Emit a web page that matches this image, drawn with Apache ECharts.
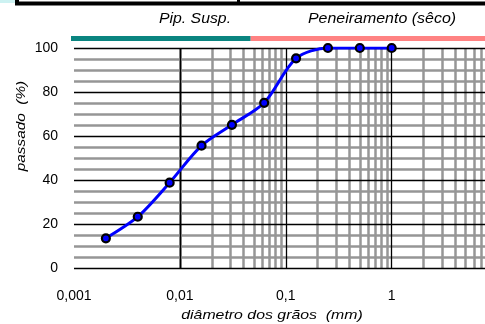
<!DOCTYPE html>
<html>
<head>
<meta charset="utf-8">
<script src="https://cdn.jsdelivr.net/npm/echarts@6/dist/echarts.min.js"></script>
<style>
  html, body { margin: 0; padding: 0; background: #fff; overflow: hidden; }
  /* the plot runs past the right edge of the picture, so the canvas is wider than the window */
  #chart { width: 512px; height: 324px; }
</style>
</head>
<body>
<div id="chart"></div>
<script>
// grain size curve
const diameters = [0.002, 0.004, 0.008, 0.016, 0.031, 0.0625, 0.125, 0.25, 0.5, 1.0]
const passing = [13.5, 23.3, 38.8, 55.6, 65.1, 75.1, 95.3, 100, 100, 100]

const decades = [0.001, 0.01, 0.1, 1, 10]
const decadeLabels = ['0,001', '0,01', '0,1', '1', '10']
const minorSteps = [2, 3, 4, 5, 6, 7, 8, 9]
const yMajor = [0, 20, 40, 60, 80, 100]
const yMinor = [5, 10, 15, 25, 30, 35, 45, 50, 55, 65, 70, 75, 85, 90, 95]

// where the pipette zone ends and the sieve zone starts
const sieveBoundary = 0.0466

const font = "'Liberation Sans', Arial, sans-serif"

const minorX = []
decades.slice(0, -1).forEach(d => minorSteps.forEach(k => minorX.push(d * k)))

const chart = echarts.init(document.getElementById('chart'))

const gridLine = (color, width, xs, ys, z) => ({
  type: 'line',
  data: [],
  z,
  silent: true,
  markLine: {
    z,
    silent: true,
    animation: false,
    symbol: ['none', 'none'],
    label: { show: false },
    emphasis: { disabled: true },
    lineStyle: { color, width, type: 'solid' },
    data: [...xs.map(v => ({ xAxis: v })), ...ys.map(v => ({ yAxis: v }))]
  }
})

chart.setOption({
  animation: false,
  grid: { left: 74, top: 48, right: 14.4, bottom: 56 },
  xAxis: {
    type: 'log',
    logBase: 10,
    min: 0.001,
    max: 10,
    axisLine: { show: false },
    axisTick: { show: false },
    splitLine: { show: false },
    axisLabel: {
      margin: 21,
      color: '#000',
      fontSize: 14,
      fontFamily: font,
      formatter: (v) => decadeLabels[Math.round(Math.log10(v)) + 3] || ''
    }
  },
  yAxis: {
    type: 'value',
    min: 0,
    max: 100,
    interval: 20,
    axisLine: { show: false },
    axisTick: { show: false },
    splitLine: { show: false },
    axisLabel: { margin: 16, color: '#000', fontSize: 14, fontFamily: font }
  },
  series: [
    gridLine('#969696', 2.5, minorX, yMinor, 1),
    gridLine('#000', 1.3, decades, yMajor, 2),
    {
      type: 'line',
      z: 5,
      data: diameters.map((d, i) => [d, passing[i]]),
      smooth: 0.3,
      symbol: 'circle',
      symbolSize: 8,
      lineStyle: { color: '#0000ff', width: 3 },
      itemStyle: { color: '#0000ff', borderColor: '#000', borderWidth: 2.2 }
    }
  ]
})

const bx = chart.convertToPixel({ gridIndex: 0 }, [sieveBoundary, 100])[0]

// the original text is a little stretched sideways
const label = (text, x, y, size, sx, rotation) => ({
  type: 'text', x, y, scaleX: sx, rotation: rotation || 0,
  style: { text, font: 'italic ' + size + 'px ' + font, fill: '#000', align: 'center', verticalAlign: 'middle' }
})

chart.setOption({
  graphic: [
    // bits of the table border above the chart
    { type: 'rect', shape: { x: 0, y: 0, width: 15, height: 3 }, style: { fill: '#cdf2f2' } },
    { type: 'rect', shape: { x: 15, y: 0, width: 4, height: 4 }, style: { fill: '#000' } },
    { type: 'rect', shape: { x: 15, y: 1.5, width: 500, height: 4 }, style: { fill: '#000' } },
    { type: 'rect', shape: { x: 237, y: 0, width: 3, height: 5 }, style: { fill: '#000' } },
    // zone bars
    { type: 'rect', shape: { x: 71, y: 36, width: bx - 71, height: 5 }, style: { fill: '#0a8580' } },
    { type: 'rect', shape: { x: bx, y: 36, width: 512 - bx, height: 5 }, style: { fill: '#ff8282' } },
    label('Pip. Susp.', 195, 19, 14, 1.13),
    label('Peneiramento (sêco)', 382, 19, 14, 1.14),
    label('diâmetro dos grãos  (mm)', 272, 315, 13, 1.22),
    label('passado  (%)', 21, 126, 13, 1.18, Math.PI / 2)
  ]
})
</script>
</body>
</html>
